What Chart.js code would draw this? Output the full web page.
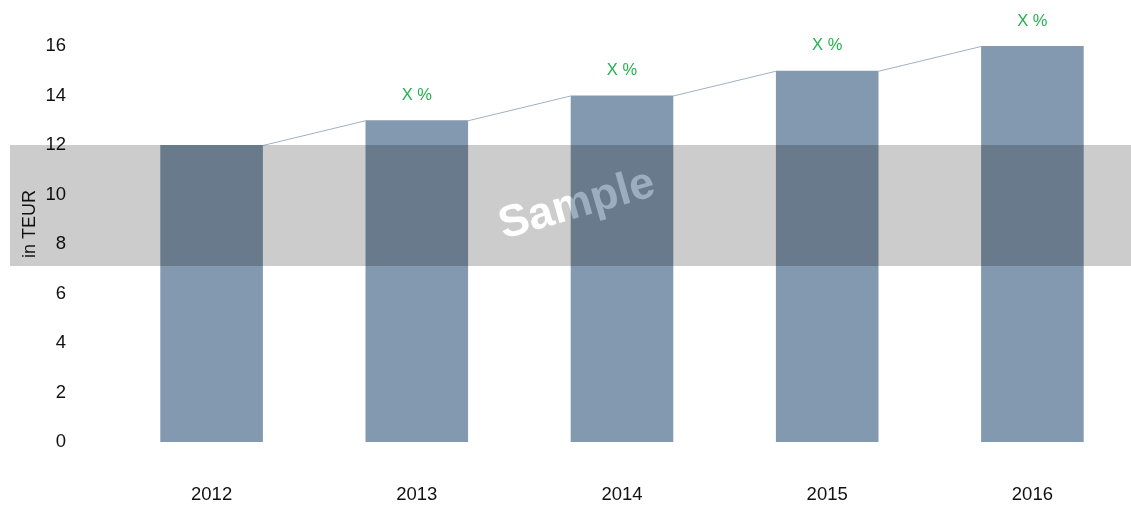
<!DOCTYPE html>
<html>
<head>
<meta charset="utf-8">
<script src="https://cdn.jsdelivr.net/npm/chart.js@4/dist/chart.umd.min.js"></script>
<style>
  html, body { margin: 0; padding: 0; background: #fff; overflow: hidden; }
  #wrap { width: 1135px; height: 513px; }
</style>
</head>
<body>
<div id="wrap"><canvas id="myChart"></canvas></div>
<script>
var years = ['2012', '2013', '2014', '2015', '2016'];
var values = [12, 13, 14, 15, 16];
var growthLabels = ['', 'X %', 'X %', 'X %', 'X %'];
var yTicks = [0, 2, 4, 6, 8, 10, 12, 14, 16];

var FONT = "'Liberation Sans', Arial, sans-serif";

// connector lines + growth labels
var extras = {
    id: 'extras',
    afterDatasetsDraw: function (chart) {
        var ctx = chart.ctx;
        var bars = chart.getDatasetMeta(0).data;
        ctx.save();
        ctx.strokeStyle = '#9fb1c4';
        ctx.lineWidth = 1;
        for (var i = 0; i < bars.length - 1; i++) {
            var a = bars[i], b = bars[i + 1];
            ctx.beginPath();
            ctx.moveTo(a.x + a.width / 2, a.y + 0.5);
            ctx.lineTo(b.x - b.width / 2, b.y + 0.5);
            ctx.stroke();
        }
        ctx.fillStyle = '#22b14c';
        ctx.font = '16.5px ' + FONT;
        ctx.textAlign = 'center';
        ctx.textBaseline = 'middle';
        bars.forEach(function (bar, i) {
            if (growthLabels[i]) ctx.fillText(growthLabels[i], bar.x, bar.y - 25);
        });
        ctx.restore();
    }
};

// "Sample" watermark band drawn over the bars
var watermark = {
    id: 'watermark',
    afterDraw: function (chart) {
        var y = chart.scales.y;
        var top = Math.round(y.getPixelForValue(12));
        var bottom = Math.round(y.getPixelForValue(7.1));
        var w = chart.width;
        var off = document.createElement('canvas');
        off.width = w;
        off.height = chart.height;
        var o = off.getContext('2d');
        o.fillStyle = 'rgba(0,0,0,0.2)';
        o.fillRect(10, top, w - 10, bottom - top);
        o.globalCompositeOperation = 'destination-out';
        o.translate(577, 205);
        o.rotate(-16 * Math.PI / 180);
        o.font = 'bold 45px ' + FONT;
        o.textAlign = 'center';
        o.textBaseline = 'middle';
        o.fillStyle = '#000';
        o.fillText('Sample', 0, 0);
        var ctx = chart.ctx;
        ctx.save();
        ctx.drawImage(off, 0, 0, w, chart.height);
        ctx.translate(577, 205);
        ctx.rotate(-16 * Math.PI / 180);
        ctx.font = 'bold 45px ' + FONT;
        ctx.textAlign = 'center';
        ctx.textBaseline = 'middle';
        ctx.fillStyle = 'rgba(255,255,255,0.2)';
        ctx.fillText('Sample', 0, 0);
        ctx.restore();
        // axis title
        ctx.save();
        ctx.translate(30, 224);
        ctx.rotate(-Math.PI / 2);
        ctx.font = '18px ' + FONT;
        ctx.fillStyle = '#111';
        ctx.textAlign = 'center';
        ctx.textBaseline = 'middle';
        ctx.fillText('in TEUR', 0, 0);
        ctx.restore();
    }
};

var ctx = document.getElementById('myChart').getContext('2d');
var myChart = new Chart(ctx, {
    type: 'bar',
    data: {
        labels: years,
        datasets: [{
            data: values,
            backgroundColor: '#8399af',
            borderWidth: 0,
            categoryPercentage: 1,
            barPercentage: 0.5
        }]
    },
    options: {
        responsive: true,
        maintainAspectRatio: false,
        animation: false,
        layout: { padding: { left: 0, right: 0, top: 46, bottom: 0 } },
        plugins: {
            legend: { display: false },
            tooltip: { enabled: false }
        },
        scales: {
            x: {
                grid: { display: false, drawTicks: false },
                border: { display: false },
                ticks: { color: '#111', font: { size: 18.5, family: FONT }, padding: 42 },
                afterFit: function (s) { s.height = 71; s.paddingLeft = 0; s.paddingRight = 0; }
            },
            y: {
                min: 0,
                max: 16,
                afterBuildTicks: function (s) { s.ticks = yTicks.map(function (v) { return { value: v }; }); },
                grid: { display: false, drawTicks: false },
                border: { display: false },
                ticks: { color: '#111', font: { size: 18.5, family: FONT }, padding: 43 },
                afterFit: function (s) { s.width = 109; s.paddingTop = 0; s.paddingBottom = 0; }
            }
        }
    },
    plugins: [extras, watermark]
});
</script>
</body>
</html>
